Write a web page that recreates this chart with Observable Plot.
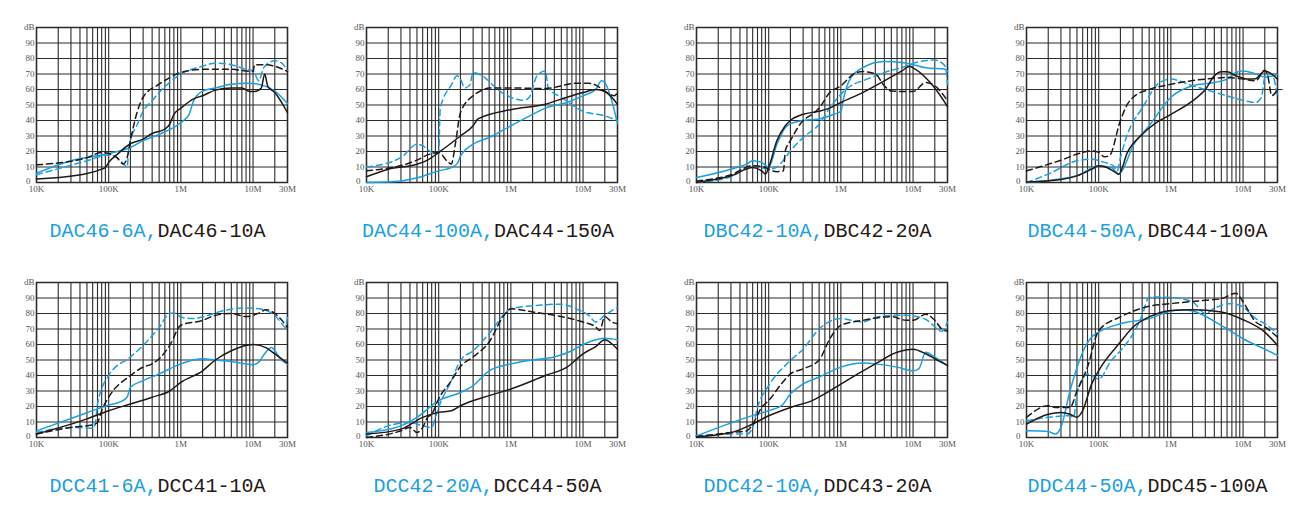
<!DOCTYPE html>
<html>
<head>
<meta charset="utf-8">
<script src="https://cdn.jsdelivr.net/npm/d3@7"></script>
<script src="https://cdn.jsdelivr.net/npm/@observablehq/plot@0.6"></script>
<style>
  html, body { margin: 0; padding: 0; background: #fff; }
  #root { position: relative; width: 1307px; height: 518px; overflow: hidden; }
  .cell { position: absolute; width: 330px; height: 200px; }
  .cell svg { max-width: none !important; }
  .cap { position: absolute; font-family: "Liberation Mono", "DejaVu Sans Mono", monospace; font-size: 20px; line-height: 24px; white-space: nowrap; text-align: center; }
  .cap .b { color: #1a9fe3; }
  .cap .k { color: #231815; }
</style>
</head>
<body>
<div id="root"></div>
<script>
// ---- axis ticks ----
const ticksX = [1e4, 1e5, 1e6, 1e7, 3e7];
const tickLabelsX = ["10K", "100K", "1M", "10M", "30M"];
const ticksY = [0, 10, 20, 30, 40, 50, 60, 70, 80, 90, 100];
const tickLabelsY = ["0", "10", "20", "30", "40", "50", "60", "70", "80", "90", "dB"];

// ---- panel titles ----
const blueNames = ["DAC46-6A,", "DAC44-100A,", "DBC42-10A,", "DBC44-50A,", "DCC41-6A,", "DCC42-20A,", "DDC42-10A,", "DDC44-50A,"];
const blackNames = ["DAC46-10A", "DAC44-150A", "DBC42-20A", "DBC44-100A", "DCC41-10A", "DCC44-50A", "DDC43-20A", "DDC45-100A"];

// ---- series: [frequency Hz, attenuation dB] ----
// Panel 1
const p1BlueSolid = [[1e4,6],[3e4,14],[1e5,18.7],[2e5,22.6],[3e5,27],[5e5,31],[1e6,38.7],[1.3e6,44],[1.5e6,52.7],[2e6,59],[3e6,61],[5e6,63.4],[8e6,64],[1e7,63.9],[1.5e7,62],[2e7,59],[3e7,51]];
const p1BlueDash = [[1e4,5],[5e4,14],[1e5,17.8],[1.3e5,16],[1.6e5,12],[1.8e5,10],[1.9e5,22],[2e5,27],[2.5e5,37.6],[3e5,46],[4e5,52.7],[5e5,58],[1e6,70],[2e6,75],[3e6,77],[5e6,76],[8e6,73],[1e7,72],[1.2e7,65.6],[1.4e7,74],[2e7,78.5],[2.5e7,77],[3e7,72]];
const p1BlackSolid = [[1e4,2.2],[5e4,5.8],[8e4,8.6],[9e4,9.7],[1e5,13],[1.3e5,18],[2e5,25],[3e5,28],[4e5,31.6],[6e5,34.4],[7e5,37.6],[8e5,44],[1e6,48],[1.5e6,54],[2e6,56],[3e6,59.6],[5e6,61],[7e6,61],[9e6,58.7],[1.05e7,58.7],[1.3e7,61],[1.45e7,70],[1.6e7,62],[2e7,58],[3e7,45]];
const p1BlackDash = [[1e4,11.4],[5e4,16],[8e4,19.4],[1e5,18.7],[1.3e5,16],[1.6e5,12],[1.8e5,16],[2e5,27],[2.5e5,46],[3e5,55],[5e5,63.4],[7e5,67.7],[1e6,71],[2e6,73],[5e6,73],[8e6,72],[1e7,71.6],[1.05e7,76],[1.5e7,76],[2e7,75],[3e7,71.6]];
// Panel 2
const p2BlueSolid = [[1e4,0],[3e4,1],[5e4,3],[1e5,7.5],[1.5e5,9.7],[1.8e5,12],[2e5,17],[3e5,24.7],[5e5,29],[1e6,36.6],[2e6,44],[3e6,48],[6e6,51.6],[1e7,56],[1.5e7,60],[1.8e7,65.6],[2e7,64.5],[3e7,38]];
const p2BlueDash = [[1e4,10],[3e4,16],[5e4,24.7],[6e4,23.7],[8e4,19.4],[1e5,18.3],[1.05e5,48],[1.5e5,63],[1.8e5,68.8],[2e5,66.7],[2.3e5,61],[2.7e5,63],[3e5,71],[4e5,68.8],[7e5,59],[1e6,55],[1.5e6,53],[1.8e6,55],[2.3e6,68.8],[3e6,72],[3.3e6,61],[5e6,55],[1e7,46],[2e7,43],[3e7,40]];
const p2BlackSolid = [[1e4,3.7],[2e4,8.6],[5e4,11.8],[7e4,14.4],[1e5,19.4],[2e5,30],[3e5,36.6],[3.5e5,41],[1e6,47],[3e6,50.5],[6e6,55],[1e7,58],[1.5e7,60],[2e7,58.7],[3e7,50.5]];
const p2BlackDash = [[1e4,7.5],[5e4,14.4],[7e4,17.8],[1e5,19.4],[1.3e5,14],[1.5e5,12],[1.7e5,24.7],[2e5,45],[3e5,56],[4e5,59.6],[5e5,61],[1e6,61],[3e6,60.6],[8e6,64],[1.2e7,64],[1.5e7,62.8],[2e7,59],[2.7e7,56],[3e7,58]];
// Panel 3
const p3BlueSolid = [[1e4,3.2],[3e4,8.6],[5e4,12],[6e4,14],[8e4,13],[1e5,10],[1.3e5,24.7],[1.7e5,35.5],[2e5,38],[3e5,40],[5e5,41],[8e5,44],[1e6,46],[1.1e6,55],[1.3e6,65.6],[2e6,74],[4e6,78],[7e6,77.4],[1e7,76],[1.5e7,74],[2.8e7,73],[3e7,71.6]];
const p3BlueDash = [[1e4,0],[3e4,3.7],[6e4,10.8],[1e5,8.6],[1.3e5,10],[1.7e5,16],[2e5,20.4],[3e5,29],[5e5,37.6],[7e5,48],[1e6,57],[1.5e6,63.4],[2e6,65.6],[4e6,71],[8e6,75],[1.2e7,78],[2e7,79],[2.8e7,75],[3e7,63.4]];
const p3BlackSolid = [[1e4,0],[3e4,4.3],[6e4,9.7],[8e4,7.5],[9e4,5.4],[1e5,9.7],[1.3e5,27],[1.7e5,36.6],[2e5,40],[3e5,44],[5e5,46],[7e5,48],[1e6,51.6],[2e6,58],[4e6,65.6],[7e6,72],[9e6,75],[1e7,74],[2e7,61],[3e7,49]];
const p3BlackDash = [[1e4,1],[3e4,5],[6e4,10.8],[9e4,9.7],[1e5,8.6],[1.3e5,7],[1.6e5,7.5],[1.7e5,20.4],[2e5,27],[3e5,40],[4e5,44],[5e5,48],[7e5,58],[1e6,62.4],[1.5e6,70],[2e6,71.6],[3e6,70],[4e6,62.4],[5e6,59],[8e6,58.7],[1e7,58.7],[1.5e7,64.5],[2e7,62.4],[3e7,52.7]];
// Panel 4
const p4BlueSolid = [[1e4,0],[5e4,4.3],[1e5,10.8],[1.5e5,9.7],[1.9e5,5.4],[2.1e5,7.5],[3e5,23.7],[5e5,36.6],[1e6,55],[2e6,62.4],[4e6,64.5],[6e6,66.7],[8e6,71],[1e7,72],[1.5e7,70],[2e7,68],[3e7,69.7]];
const p4BlueDash = [[1e4,0],[2e4,5.4],[5e4,14],[8e4,15],[1.2e5,13],[1.6e5,10.8],[1.8e5,7.5],[2e5,16],[2.5e5,31],[4e5,48],[7e5,64.5],[1e6,66.7],[2e6,62.4],[5e6,57],[1e7,53],[1.5e7,51.6],[1.8e7,55],[2e7,67.7],[2.5e7,70],[3e7,55]];
const p4BlackSolid = [[1e4,0.4],[3e4,2],[5e4,4.3],[8e4,8.6],[1e5,10.8],[1.3e5,9.7],[1.7e5,6.5],[1.9e5,5.4],[2.5e5,19.4],[4e5,31],[6e5,38],[1e6,44],[2e6,52.7],[3e6,60],[4e6,68.8],[5e6,71.4],[6e6,71.4],[8e6,68.8],[1.2e7,66.7],[1.5e7,67],[2e7,72],[2.5e7,70],[3e7,66.7]];
const p4BlackDash = [[1e4,7.5],[3e4,14.4],[6e4,19.4],[8e4,20.4],[1e5,19.4],[1.2e5,16.6],[1.4e5,17.2],[2e5,40],[2.5e5,50.5],[3e5,55],[5e5,60],[1e6,63.4],[3e6,66.7],[6e6,67.7],[1e7,66.7],[1.5e7,65.6],[2e7,72.5],[2.2e7,68.8],[2.5e7,56],[3e7,60]];
// stray level line drawn past the frame in panel 4: [from Hz, to Hz, dB]
const p4Stray = [[2.5e7, 3.6e7, 60]];
// Panel 5
const p5BlueSolid = [[1e4,4.3],[5e4,16],[1e5,21],[1.5e5,23.3],[1.8e5,26],[2e5,32.4],[3e5,36.7],[5e5,41],[1e6,47.5],[1.5e6,50],[2e6,50.8],[3e6,50],[5e6,49],[8e6,47.5],[1e7,47],[1.2e7,48.6],[1.5e7,55],[1.8e7,58],[2e7,56],[2.5e7,49.7],[3e7,47.5]];
const p5BlueDash = [[1e4,3.2],[3e4,6.5],[6e4,6],[6.5e4,8.6],[7e4,21.6],[1e5,40],[2e5,52],[3e5,59.4],[5e5,71],[7e5,80],[8e5,80.3],[1e6,77.8],[1.5e6,76.7],[2e6,77.8],[4e6,82],[8e6,83.6],[1.2e7,83],[2e7,78.8],[2.5e7,73.4],[2.8e7,71],[3e7,77.8]];
const p5BlackSolid = [[1e4,2.2],[5e4,12],[1e5,17.3],[2e5,21.6],[4e5,26],[7e5,30],[1e6,35.6],[2e6,43],[3e6,50],[5e6,56],[1e7,60],[1.5e7,58],[2e7,54],[3e7,48]];
const p5BlackDash = [[1e4,2.2],[3e4,6.5],[6e4,8.2],[7e4,9.7],[8e4,17.3],[1e5,26],[2e5,40],[3e5,45.4],[4e5,47.5],[5e5,50.8],[7e5,59.4],[1e6,72.4],[2e6,75.6],[3e6,78.8],[5e6,80],[8e6,78],[1e7,78.8],[1.3e7,81],[1.5e7,82.5],[2e7,80],[3e7,71]];
// Panel 6
const p6BlueSolid = [[1e4,3.2],[3e4,7.5],[5e4,13],[1e5,23.8],[2e5,29],[3e5,33.5],[5e5,43],[1e6,47.5],[2e6,50],[4e6,52],[7e6,56],[1e7,60],[1.5e7,63],[2e7,64],[3e7,63]];
const p6BlueDash = [[1e4,1],[2e4,7.5],[4e4,9.7],[6e4,7.5],[8e4,6.5],[9e4,13],[1e5,19.4],[1.5e5,36.7],[2e5,49.7],[3e5,56],[5e5,67],[1e6,83],[2e6,85],[5e6,86],[8e6,83],[1.2e7,78.8],[1.5e7,74.5],[2e7,78.8],[3e7,84]];
const p6BlackSolid = [[1e4,2.2],[3e4,5.4],[6e4,13],[1e5,16.2],[1.5e5,17.3],[2e5,20.5],[5e5,27],[1e6,31.3],[3e6,40],[6e6,45.4],[1e7,54],[1.5e7,58.7],[2e7,63],[2.5e7,60.5],[3e7,57]];
const p6BlackDash = [[1e4,0],[3e4,4.3],[4e4,6.5],[5e4,3.2],[6e4,6.5],[7e4,13],[8e4,15],[1e5,25],[1.5e5,36.7],[2e5,45.8],[3e5,52],[5e5,61.6],[8e5,78.8],[1e6,83],[2e6,81],[5e6,78],[1e7,74.5],[1.5e7,71.3],[1.7e7,69],[2e7,78],[2.5e7,74.5],[3e7,73.4]];
// Panel 7
const p7BlueSolid = [[1e4,1],[5e4,13],[1e5,17.3],[1.5e5,20.5],[2e5,28],[3e5,34.6],[5e5,39],[1e6,45.4],[2e6,48],[3e6,47.5],[6e6,45.4],[1e7,43],[1.2e7,44.3],[1.5e7,55],[2e7,51.8],[3e7,46.4]];
const p7BlueDash = [[1e4,1],[3e4,2.2],[5e4,2.2],[6e4,6.5],[7e4,19.4],[1e5,33.5],[2e5,49.7],[3e5,57],[5e5,70],[1e6,76.7],[2e6,74.5],[3e6,77.3],[5e6,78.8],[8e6,78.8],[1.2e7,77.8],[1.7e7,74.5],[2e7,71.3],[2.5e7,68.5],[3e7,74.5]];
const p7BlackSolid = [[1e4,0.5],[3e4,3.2],[5e4,7],[1e5,14],[2e5,19.4],[4e5,23.8],[7e5,30],[1e6,34.5],[3e6,47.5],[6e6,55],[1e7,57],[1.5e7,54],[2e7,50.8],[3e7,46.4]];
const p7BlackDash = [[1e4,0.5],[3e4,3.2],[5e4,4.3],[6e4,8.6],[8e4,19.4],[1e5,23.8],[1.5e5,34.6],[2e5,41],[3e5,44.3],[5e5,50],[7e5,63.5],[1e6,72.4],[2e6,75.6],[5e6,78],[8e6,75.6],[1e7,75.6],[1.5e7,79.5],[2e7,75.6],[2.5e7,70],[3e7,68.7]];
// Panel 8
const p8BlueSolid = [[1e4,4.3],[2e4,3.9],[2.5e4,2.2],[3e4,6.5],[4e4,30],[6e4,55],[8e4,64.8],[1e5,68],[2e5,73.4],[5e5,76.7],[1e6,81.6],[1.5e6,82.5],[2e6,81.6],[5e6,72.4],[1e7,63.7],[2e7,57],[3e7,53]];
const p8BlueDash = [[1e4,10.8],[2e4,13],[4e4,14],[4.5e4,13],[5e4,28],[7e4,41],[1e5,37.8],[1.5e5,49.7],[2e5,56],[3e5,67],[4e5,78.8],[5e5,90.7],[1e6,90.3],[2e6,87.5],[3e6,80],[4e6,83.4],[7e6,86.4],[1e7,84.2],[1.5e7,76.7],[2e7,73.4],[3e7,67]];
const p8BlackSolid = [[1e4,8.6],[2e4,15],[3e4,16.2],[4e4,15],[5e4,13],[6e4,17.3],[8e4,34.6],[1e5,43.2],[2e5,61.6],[3e5,71.3],[5e5,77.8],[1e6,82],[2e6,82.5],[5e6,81],[1e7,76],[2e7,68],[3e7,59.4]];
const p8BlackDash = [[1e4,13],[2e4,20.5],[2.5e4,19.4],[4e4,19.4],[5e4,30],[7e4,45.4],[1e5,69],[2e5,77.8],[5e5,84.7],[1e6,86.4],[3e6,88.5],[5e6,89.6],[8e6,93],[1e7,87.5],[1.5e7,74.5],[2e7,71.3],[3e7,64.8]];

const panels = [
  [p1BlueSolid, p1BlueDash, p1BlackSolid, p1BlackDash],
  [p2BlueSolid, p2BlueDash, p2BlackSolid, p2BlackDash],
  [p3BlueSolid, p3BlueDash, p3BlackSolid, p3BlackDash],
  [p4BlueSolid, p4BlueDash, p4BlackSolid, p4BlackDash],
  [p5BlueSolid, p5BlueDash, p5BlackSolid, p5BlackDash],
  [p6BlueSolid, p6BlueDash, p6BlackSolid, p6BlackDash],
  [p7BlueSolid, p7BlueDash, p7BlackSolid, p7BlackDash],
  [p8BlueSolid, p8BlueDash, p8BlackSolid, p8BlackDash]
];

const BLUE = "#1a9fe3", BLACK = "#231815", GRID = "#2b2b2b", LABEL = "#555";
const gridX = [];
for (let e = 4; e <= 7; e++) for (let m = 1; m <= 9; m++) { const v = m * 10 ** e; if (v <= 3e7) gridX.push(v); }

const yLabelRows = ticksY.map((v, i) => ({v, t: tickLabelsY[i]}));
const xLabelRows = ticksX.map((v, i) => ({v, t: tickLabelsX[i]}));

const cellLeft = [0, 330, 660, 990];
const cellTop = [0, 255];
const root = document.getElementById("root");

panels.forEach((series, i) => {
  const col = i % 4, row = Math.floor(i / 4);
  const styles = [
    {stroke: BLUE, dash: null}, {stroke: BLUE, dash: "6,4"},
    {stroke: BLACK, dash: null}, {stroke: BLACK, dash: "6,4"}
  ];
  const lineMarks = series.map((s, k) => Plot.line(s, {
    x: d => d[0], y: d => d[1], stroke: styles[k].stroke, strokeWidth: 1.5,
    strokeDasharray: styles[k].dash, curve: "monotone-x"
  }));
  const extra = i === 3 ? [Plot.ruleY(p4Stray, {x1: d => d[0], x2: d => d[1], y: d => d[2], stroke: GRID, strokeWidth: 1})] : [];
  const txt = {fontFamily: "'Liberation Serif', serif", fontSize: 9, fill: LABEL};
  const chart = Plot.plot({
    width: 330, height: 200,
    marginLeft: 36, marginRight: 43, marginTop: 27, marginBottom: 18,
    style: {background: "transparent", fontFamily: "'Liberation Serif', serif", fontSize: "9px", color: LABEL, overflow: "visible"},
    x: {type: "log", domain: [1e4, 3e7], label: null, axis: null},
    y: {domain: [0, 100], label: null, axis: null},
    marks: [
      Plot.ruleX(gridX, {stroke: GRID, strokeWidth: 1.1}),
      Plot.ruleY(ticksY, {stroke: GRID, strokeWidth: 1.1}),
      Plot.frame({stroke: GRID, strokeWidth: 1.5}),
      ...extra,
      // y tick labels (the 0 sits a little lower and to the left)
      Plot.text(yLabelRows.filter(d => d.v > 0), {x: () => 1e4, y: "v", text: "t", textAnchor: "end", dx: -2, ...txt}),
      Plot.text(yLabelRows.filter(d => d.v === 0), {x: () => 1e4, y: "v", text: "t", textAnchor: "end", dx: -6, dy: -1, ...txt}),
      // x tick labels
      Plot.text(xLabelRows, {x: "v", y: () => 0, text: "t", textAnchor: "middle", dy: 7, ...txt}),
      ...lineMarks
    ]
  });
  const cell = document.createElement("div");
  cell.className = "cell";
  cell.style.left = cellLeft[col] + "px";
  cell.style.top = cellTop[row] + "px";
  cell.appendChild(chart);
  root.appendChild(cell);

  const cap = document.createElement("div");
  cap.className = "cap";
  cap.style.left = (cellLeft[col] + 36 - 4) + "px";
  cap.style.width = "251px";
  cap.style.top = (cellTop[row] + 220) + "px";
  cap.innerHTML = `<span class="b">${blueNames[i]}</span><span class="k">${blackNames[i]}</span>`;
  root.appendChild(cap);
});
</script>
</body>
</html>
